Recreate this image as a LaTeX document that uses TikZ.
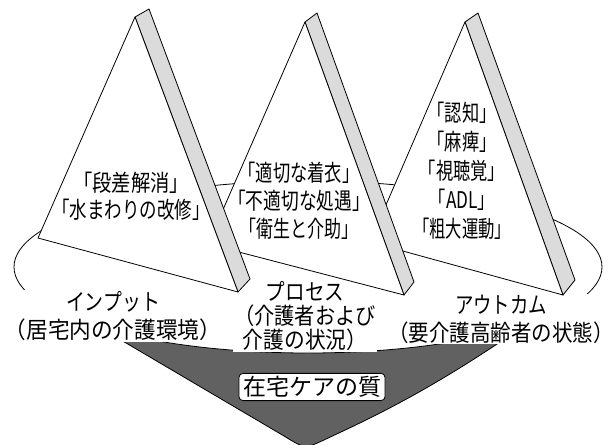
\documentclass[tikz,border=0pt]{standalone}
\usepackage{fontspec}
\setmainfont{Noto Sans CJK JP}
\usepackage{graphicx}
\newcommand\jsq[2][0.75]{\scalebox{#1}[1]{#2}}
\begin{document}
\begin{tikzpicture}[x=1pt,y=-1pt,
  face/.style={fill=white,draw=black,line width=0.8pt,line join=round},
  slab/.style={fill=gray!28,draw=black,line width=0.8pt,line join=round},
  cone/.style={fill=black!62,draw=black,line width=0.8pt},
  rim/.style={fill=white,draw=black,line width=0.8pt},
  tritext/.style={align=center,inner sep=0pt},
  lbl/.style={align=center,fill=white,inner sep=1pt},
  quality/.style={font=\fontsize{23}{28}\selectfont,fill=white,draw=black,rounded corners=4pt,line width=0.8pt,inner xsep=4pt,inner ysep=3pt}]
\fill[white] (0,0) rectangle (614,445);
\useasboundingbox (0,0) rectangle (614,445);
% cone below the ellipse
\filldraw[cone] (70,310) -- (284,436) .. controls (305,449) .. (326,439)
  .. controls (380,414) and (440,385) .. (535,318) -- (308,300) -- cycle;
% ellipse
\filldraw[rim] (308,267) ellipse [x radius=294, y radius=86];
% lower labels
\node[lbl,font=\fontsize{23}{28}\selectfont] (input) at (113,316)
  {\jsq[0.82]{インプット}\\\jsq[0.94]{（居宅内の介護環境）}};
\node[lbl,font=\fontsize{23}{24}\selectfont] (process) at (305,316)
  {\jsq[0.85]{プロセス}\\\jsq[0.88]{（介護者および}\\\jsq[0.9]{介護の状況）}};
\node[lbl,font=\fontsize{23}{28}\selectfont] (outcome) at (501,319)
  {\jsq[0.8]{アウトカム}\\\jsq[0.89]{（要介護高齢者の状態）}};
% quality box
\node[quality] (q) at (312,387) {在宅ケアの質};
% triangle 3
\filldraw[slab] (465,22) -- (478,13) -- (575,280) -- (563,295) -- cycle;
\filldraw[face] (465,22) -- (370,242) -- (563,295) -- cycle;
% triangle 2
\filldraw[slab] (305,22) -- (317,13) -- (414,282) -- (404,295) -- cycle;
\filldraw[face] (305,22) -- (208,244) -- (404,295) -- cycle;
% triangle 1
\filldraw[slab] (135,17) -- (149,9) -- (250,279) -- (238,292) -- cycle;
\filldraw[face] (135,17) -- (38,238) -- (238,292) -- cycle;
% texts in triangles
\node[tritext,font=\fontsize{23}{27}\selectfont] (t1) at (131,196)
  {\jsq[0.84]{「段差解消」}\\\jsq[0.76]{「水まわりの改修」}};
\node[tritext,font=\fontsize{23}{28}\selectfont] (t2) at (299,201)
  {\jsq{「適切な着衣」}\\\jsq[0.77]{「不適切な処遇」}\\\jsq[0.74]{「衛生と介助」}};
\node[tritext,font=\fontsize{23}{29}\selectfont] (t3) at (462,171)
  {\jsq{「認知」}\\\jsq{「麻痺」}\\\jsq{「視聴覚」}\\\jsq{「ADL」}\\\jsq[0.71]{「粗大運動」}};
\end{tikzpicture}
\end{document}
